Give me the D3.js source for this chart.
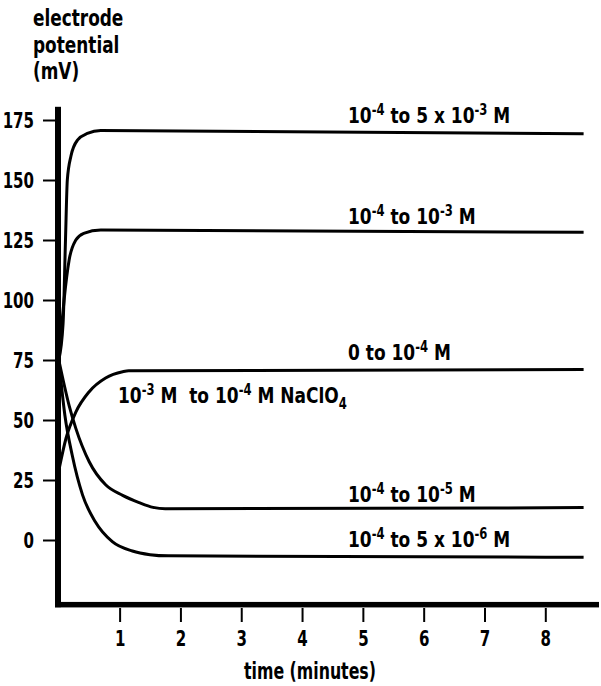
<!DOCTYPE html>
<meta charset="utf-8">
<style>
body {
  margin: 0;
  background: #fff;
}
svg {
  display: block;
  font-family: 'DejaVu Sans Condensed', 'DejaVu Sans', sans-serif;
  font-weight: bold;
}
.curve {
  fill: none;
  stroke: #000;
  stroke-width: 3;
}
.tick line {
  stroke: #000;
  stroke-width: 2;
}
.tick text {
  font-family: 'DejaVu Sans Condensed', sans-serif;
  font-size: 22px;
  fill: #000;
}
.lbl {
  font-size: 22px;
  white-space: pre;
}
</style>
<body>
<div id="chart"></div>
<script src="https://cdn.jsdelivr.net/npm/d3@7"></script>
<script>
// values: [time (min), potential (mV)]
var up5e3 = [[0, 75], [0.07, 90], [0.11, 125], [0.14, 150], [0.2, 160], [0.31, 166.7], [0.47, 169.4], [0.69, 170.6], [8.63, 169.3]];
var up1e3 = [[0, 75], [0.05, 90], [0.087, 100], [0.17, 116.7], [0.28, 125], [0.41, 127.8], [0.69, 129.2], [8.63, 128.2]];
var zeroTo1e4 = [[0, 29], [0.12, 42.5], [0.28, 53.3], [0.5, 61.8], [0.77, 67.5], [1.05, 70.1], [1.15, 70.5], [8.63, 71]];
var down1e5 = [[0, 75], [0.17, 56], [0.28, 46.5], [0.5, 32.6], [0.77, 23], [1.05, 18.6], [1.32, 15.6], [1.55, 13.6], [1.75, 13], [8.63, 13.5]];
var down5e6 = [[0, 75], [0.1, 52], [0.22, 35.4], [0.39, 18.8], [0.6, 7.6], [0.88, -0.7], [1.21, -4.6], [1.5, -6.1], [1.8, -6.6], [8.63, -7.2]];

var yTicks = [0, 25, 50, 75, 100, 125, 150, 175];
var xTicks = [1, 2, 3, 4, 5, 6, 7, 8];

var yTitle = ['electrode', 'potential', '(mV)'];
var xTitle = 'time (minutes)';

// label pieces: [text, 'n' normal | 'sup' | 'sub']
var labelParts = [
  [['10', 'n'], ['-4', 'sup'], [' to 5 x 10', 'n'], ['-3', 'sup'], [' M', 'n']],
  [['10', 'n'], ['-4', 'sup'], [' to 10', 'n'], ['-3', 'sup'], [' M', 'n']],
  [['0 to 10', 'n'], ['-4', 'sup'], [' M', 'n']],
  [['10', 'n'], ['-3', 'sup'], [' M  to 10', 'n'], ['-4', 'sup'], [' M NaClO', 'n'], ['4', 'sub']],
  [['10', 'n'], ['-4', 'sup'], [' to 10', 'n'], ['-5', 'sup'], [' M', 'n']],
  [['10', 'n'], ['-4', 'sup'], [' to 5 x 10', 'n'], ['-6', 'sup'], [' M', 'n']]
];

// where each label sits: left x, baseline y (pixels)
var labelLayout = [[348, 123], [348, 224], [348, 360], [118, 403], [348, 502], [348, 547]];

var svg = d3.select('#chart')
            .append('svg')
            .attr('width', 601)
            .attr('height', 686);

var x = d3.scaleLinear().domain([0, 8]).range([58.8, 545.3]);
var y = d3.scaleLinear().domain([0, 175]).range([540, 120]);

// the original face is a tall condensed grotesque: squeeze a bigger font sideways
function squeeze(sel, tx, ty, sx) {
  sel.attr('transform', 'translate(' + tx + ',' + ty + ') scale(' + sx + ',1)');
}

// heavy axis lines
svg.append('rect')
   .attr('x', 55).attr('y', y(180.5))
   .attr('width', 6).attr('height', y(-28) - y(180.5))
   .attr('fill', '#000');
svg.append('rect')
   .attr('x', 55).attr('y', y(-25.8))
   .attr('width', 599 - 55).attr('height', 5.5)
   .attr('fill', '#000');

var yAxis = svg.append('g')
   .attr('transform', 'translate(55,0)')
   .call(d3.axisLeft(y).tickValues(yTicks).tickSize(12).tickPadding(9));
yAxis.select('.domain').remove();
yAxis.selectAll('.tick text').each(function() {
  var t = d3.select(this);
  var tx = +t.attr('x');
  t.attr('x', 0);
  squeeze(t, tx, 0, 0.76);
});

var xAxis = svg.append('g')
   .attr('transform', 'translate(0,608)')
   .call(d3.axisBottom(x).tickValues(xTicks).tickSize(14).tickPadding(8));
xAxis.select('.domain').remove();
xAxis.selectAll('.tick text').attr('transform', 'scale(0.76,1)');

// titles
yTitle.forEach(function(s, i) {
  svg.append('text')
     .style('font-size', '23.5px')
     .text(s)
     .call(squeeze, 33, 26 + i * 26.5, 0.8);
});

svg.append('text')
   .attr('text-anchor', 'middle')
   .style('font-size', '22.5px')
   .text(xTitle)
   .call(squeeze, 310, 679, 0.78);

// curves
var line = d3.line()
  .x(function(d) { return x(d[0]); })
  .y(function(d) { return y(d[1]); })
  .curve(d3.curveMonotoneX);

[up5e3, up1e3, zeroTo1e4, down1e5, down5e6].forEach(function(s) {
  svg.append('path')
     .attr('class', 'curve')
     .datum(s)
     .attr('d', line);
});

// curve labels
labelParts.forEach(function(parts, i) {
  var pos = labelLayout[i];
  var t = svg.append('text')
     .attr('class', 'lbl')
     .call(squeeze, pos[0], pos[1], 0.86);
  var shift = 0;
  parts.forEach(function(p) {
    var sp = t.append('tspan').text(p[0]);
    var target = p[1] == 'sup' ? -8 : (p[1] == 'sub' ? 6 : 0);
    if (p[1] != 'n') sp.style('font-size', '15px');
    sp.attr('dy', target - shift);
    shift = target;
  });
});
</script>
</body>
